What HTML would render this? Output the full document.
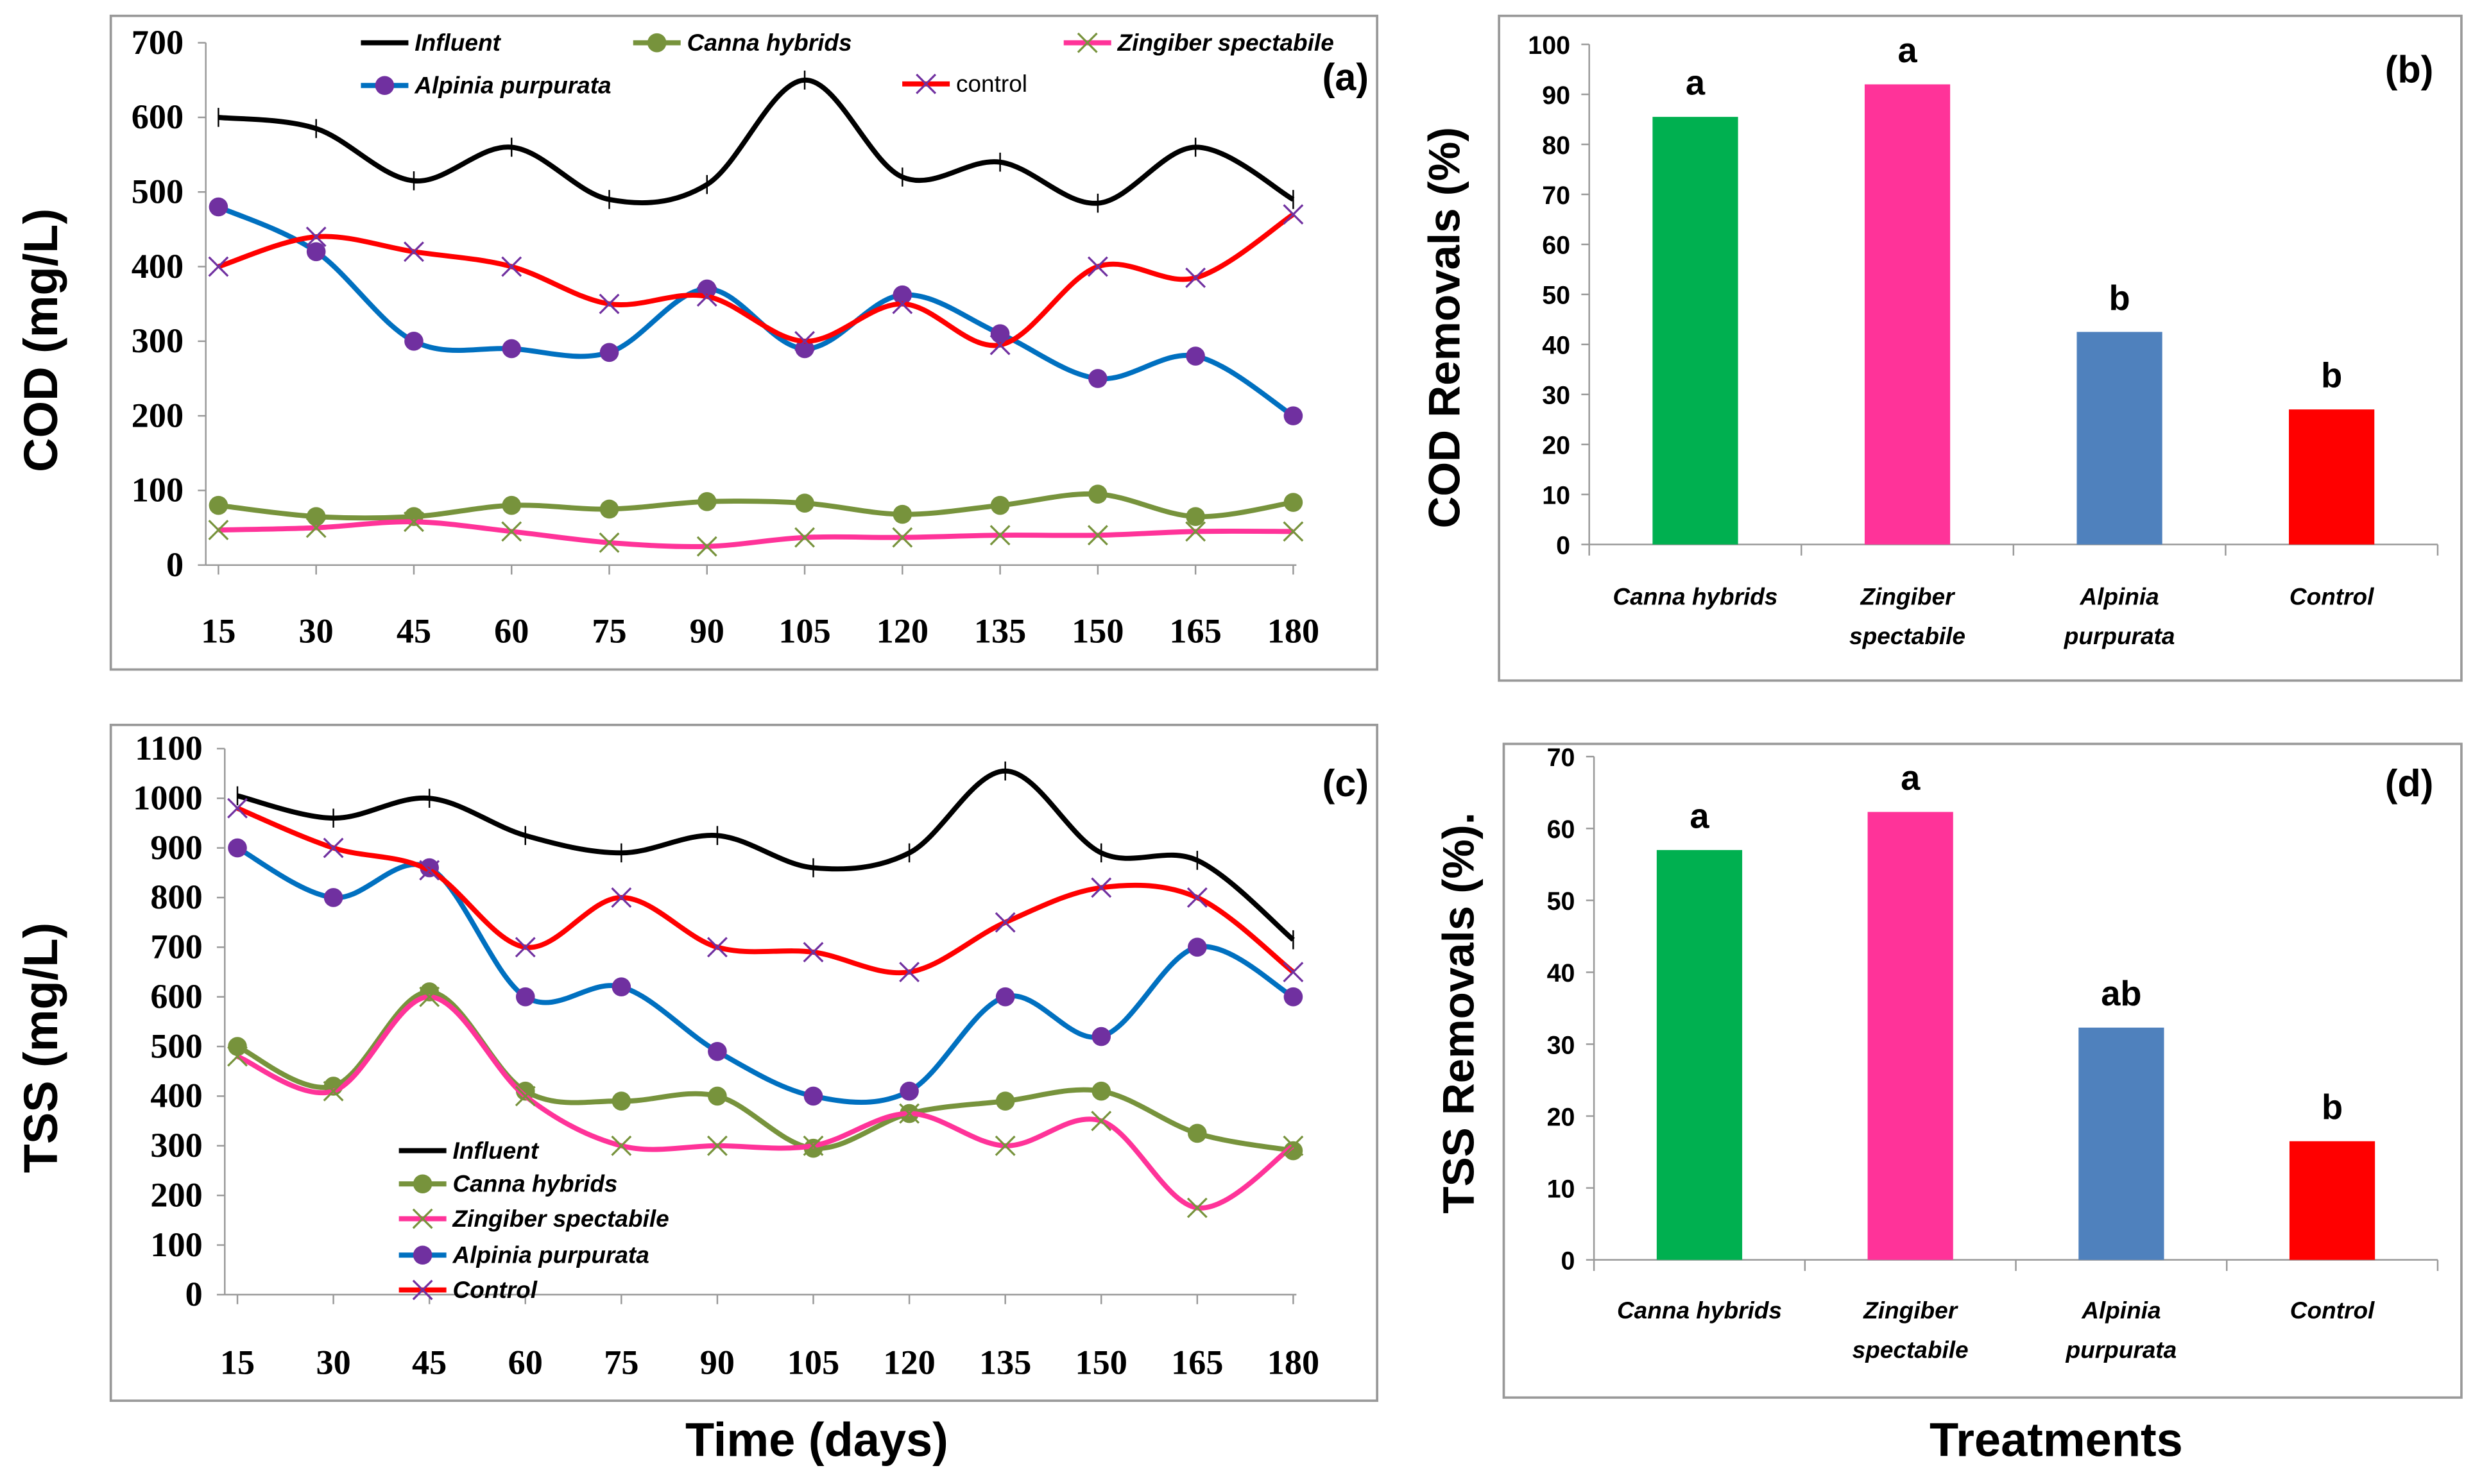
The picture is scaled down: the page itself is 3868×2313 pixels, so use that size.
<!DOCTYPE html>
<html><head><meta charset="utf-8"><style>
html,body{margin:0;padding:0;background:#fff;}
svg{display:block;}
</style></head><body>
<svg id="fig" xmlns="http://www.w3.org/2000/svg" width="3868" height="2313" viewBox="0 0 1568 937.6">
<rect x="0" y="0" width="1568" height="937.6" fill="#fff"/>
</svg>
<script>
// ---- Data ----
const days = [15,30,45,60,75,90,105,120,135,150,165,180];
const codInfluent = [600,585,515,560,490,510,650,520,540,485,560,490];
const codCanna = [80,65,65,80,75,85,83,68,80,95,65,84];
const codZingiber = [47,50,58,45,30,25,37,37,40,40,45,45];
const codAlpinia = [480,420,300,290,285,370,290,362,310,250,280,200];
const codControl = [400,440,420,400,350,360,300,350,295,400,385,470];
const codTicks = [0,100,200,300,400,500,600,700];

const tssInfluent = [1005,960,1000,925,890,925,860,890,1055,890,875,715];
const tssCanna = [500,420,610,410,390,400,295,365,390,410,325,290];
const tssZingiber = [480,410,600,400,300,300,300,365,300,350,175,300];
const tssAlpinia = [900,800,860,600,620,490,400,410,600,520,700,600];
const tssControl = [980,900,855,700,800,700,690,650,750,820,800,650];
const tssTicks = [0,100,200,300,400,500,600,700,800,900,1000,1100];

const treatments = [["Canna hybrids"],["Zingiber","spectabile"],["Alpinia","purpurata"],["Control"]];
const codRemoval = [85.5,92,42.5,27];
const codLetters = ["a","a","b","b"];
const codRemTicks = [0,10,20,30,40,50,60,70,80,90,100];
const tssRemoval = [57,62.3,32.3,16.5];
const tssLetters = ["a","a","ab","b"];
const tssRemTicks = [0,10,20,30,40,50,60,70];

const NS="http://www.w3.org/2000/svg";
const svg=document.getElementById('fig');
function el(tag,attrs,parent,text){const e=document.createElementNS(NS,tag);for(const k in attrs)e.setAttribute(k,attrs[k]);if(text!==undefined)e.textContent=text;(parent||svg).appendChild(e);return e;}

const serif='"Liberation Serif", serif', sans='"Liberation Sans", sans-serif';
const barColors=["#00b050","#ff3399","#4f81bd","#ff0000"];

function smoothPath(pts){
  let d=`M${pts[0][0]},${pts[0][1]}`;
  for(let i=0;i<pts.length-1;i++){
    const p0=pts[i-1]||pts[i],p1=pts[i],p2=pts[i+1],p3=pts[i+2]||p2;
    const t=0.17*3/3;
    const c1=[p1[0]+(p2[0]-p0[0])/6,p1[1]+(p2[1]-p0[1])/6];
    const c2=[p2[0]-(p3[0]-p1[0])/6,p2[1]-(p3[1]-p1[1])/6];
    d+=` C${c1[0]},${c1[1]} ${c2[0]},${c2[1]} ${p2[0]},${p2[1]}`;
  }
  return d;
}
function marker(g,type,x,y,color){
  if(type==='circle'){const m=el('circle',{cx:x,cy:y,r:6,fill:'#7030a0'},g);}
  else if(type==='x'){const s=6;const m=el('path',{d:`M${x-s},${y-s}L${x+s},${y+s}M${x-s},${y+s}L${x+s},${y-s}`,stroke:color,'stroke-width':1.3,fill:'none'},g);}
  else if(type==='greendot'){const m=el('circle',{cx:x,cy:y,r:6,fill:'#77933c'},g);}
  else if(type==='tick'){const m=el('path',{d:`M${x},${y-6}L${x},${y+6}`,stroke:'#000','stroke-width':1},g);}
}

function lineChart(cfg){
  const g=el('g',{});
  
  
  const fr=el('rect',{x:cfg.frame[0],y:cfg.frame[1],width:cfg.frame[2]-cfg.frame[0],height:cfg.frame[3]-cfg.frame[1],fill:'none',stroke:'#999','stroke-width':1.5},g);
  
  const xs=d=>cfg.x0+(d-days[0])/(days[days.length-1]-days[0])*(cfg.x1-cfg.x0);
  const ys=v=>cfg.y0-(v/cfg.ymax)*(cfg.y0-cfg.y1);
  const axL=cfg.x0-8;
  const ya=el('line',{x1:axL,y1:cfg.y0,x2:axL,y2:cfg.y1,stroke:'#999','stroke-width':1},g);
  
  const xa=el('line',{x1:axL,y1:cfg.y0,x2:cfg.x1+2,y2:cfg.y0,stroke:'#999','stroke-width':1},g);
  
  cfg.ticks.forEach(t=>{
    el('line',{x1:axL-5,y1:ys(t),x2:axL,y2:ys(t),stroke:'#999'},g);
    const tl=el('text',{x:axL-14,y:ys(t)+7,'text-anchor':'end','font-family':serif,'font-size':22,'font-weight':'bold'},g,String(t));
    
  });
  days.forEach(d=>{
    el('line',{x1:xs(d),y1:cfg.y0,x2:xs(d),y2:cfg.y0+6,stroke:'#999'},g);
    const tl=el('text',{x:xs(d),y:cfg.xlabY,'text-anchor':'middle','font-family':serif,'font-size':22,'font-weight':'bold'},g,String(d));
    
  });
  cfg.series.forEach(s=>{
    const sg=el('g',{},g);
    
    const pts=s.data.map((v,i)=>[xs(days[i]),ys(v)]);
    const p=el('path',{d:smoothPath(pts),fill:'none',stroke:s.color,'stroke-width':3.2},sg);
    
    pts.forEach(pt=>marker(sg,s.marker,pt[0],pt[1],s.mcolor));
  });
  const yt=el('text',{transform:`translate(${cfg.ytitle[0]},${cfg.ytitle[1]}) rotate(-90)`,'text-anchor':'middle','font-family':sans,'font-size':30,'font-weight':'bold'},g,cfg.ytitleText);
  
  const pl=el('text',{x:cfg.panel[0],y:cfg.panel[1],'text-anchor':'middle','font-family':sans,'font-size':24,'font-weight':'bold'},g,cfg.panelText);
  
  cfg.legend.forEach(L=>{
    const s=cfg.series.find(q=>q.key===L.key);
    const lg=el('g',{},g);
    
    el('line',{x1:L.x,y1:L.y,x2:L.x+30,y2:L.y,stroke:s.color,'stroke-width':3.2},lg);
    if(s.marker!=='tick')marker(lg,s.marker,L.x+15,L.y,s.mcolor);
    el('text',{x:L.x+34,y:L.y+5,'font-family':sans,'font-size':15,'font-weight':L.plain?'normal':'bold','font-style':L.plain?'normal':'italic'},lg,L.text);
  });
  return {g};
}

lineChart({name:'cod-time-chart',frame:[70,10,870,423],x0:138,x1:817,y0:357,y1:27,ymax:700,ticks:codTicks,xlabY:406,
  ytitle:[36,215],ytitleText:'COD (mg/L)',panel:[850,57],panelText:'(a)',
  series:[
    {key:'influent',data:codInfluent,color:'#000',marker:'tick'},
    {key:'canna',data:codCanna,color:'#77933c',marker:'greendot'},
    {key:'zingiber',data:codZingiber,color:'#ff3399',marker:'x',mcolor:'#77933c'},
    {key:'alpinia',data:codAlpinia,color:'#0070c0',marker:'circle'},
    {key:'control',data:codControl,color:'#ff0000',marker:'x',mcolor:'#7030a0'}],
  legend:[{key:'influent',x:228,y:27,text:'Influent'},{key:'canna',x:400,y:27,text:'Canna hybrids'},{key:'zingiber',x:672,y:27,text:'Zingiber spectabile'},
    {key:'alpinia',x:228,y:54,text:'Alpinia purpurata'},{key:'control',x:570,y:53,text:'control',plain:true}]});

lineChart({name:'tss-time-chart',frame:[70,458,870,885],x0:150,x1:817,y0:818,y1:473,ymax:1100,ticks:tssTicks,xlabY:868,
  ytitle:[36,662],ytitleText:'TSS (mg/L)',panel:[850,503],panelText:'(c)',
  series:[
    {key:'influent',data:tssInfluent,color:'#000',marker:'tick'},
    {key:'canna',data:tssCanna,color:'#77933c',marker:'greendot'},
    {key:'zingiber',data:tssZingiber,color:'#ff3399',marker:'x',mcolor:'#77933c'},
    {key:'alpinia',data:tssAlpinia,color:'#0070c0',marker:'circle'},
    {key:'control',data:tssControl,color:'#ff0000',marker:'x',mcolor:'#7030a0'}],
  legend:[{key:'influent',x:252,y:727,text:'Influent'},{key:'canna',x:252,y:748,text:'Canna hybrids'},{key:'zingiber',x:252,y:770,text:'Zingiber spectabile'},
    {key:'alpinia',x:252,y:793,text:'Alpinia purpurata'},{key:'control',x:252,y:815,text:'Control'}]});

const xt=el('text',{x:516,y:920,'text-anchor':'middle','font-family':sans,'font-size':30,'font-weight':'bold'},svg,'Time (days)');


function barChart(cfg){
  const g=el('g',{});
  
  const fr=el('rect',{x:cfg.frame[0],y:cfg.frame[1],width:cfg.frame[2]-cfg.frame[0],height:cfg.frame[3]-cfg.frame[1],fill:'none',stroke:'#999','stroke-width':1.5},g);
  
  const ys=v=>cfg.y0-(v/cfg.ymax)*(cfg.y0-cfg.y1);
  const n=cfg.values.length,band=(cfg.x1-cfg.x0)/n;
  const xc=i=>cfg.x0+band*(i+0.5);
  const ya=el('line',{x1:cfg.x0,y1:cfg.y0,x2:cfg.x0,y2:cfg.y1,stroke:'#999'},g);
  
  const xa=el('line',{x1:cfg.x0,y1:cfg.y0,x2:cfg.x1,y2:cfg.y0,stroke:'#999'},g);
  
  cfg.ticks.forEach(t=>{
    el('line',{x1:cfg.x0-5,y1:ys(t),x2:cfg.x0,y2:ys(t),stroke:'#999'},g);
    const tl=el('text',{x:cfg.x0-12,y:ys(t)+6,'text-anchor':'end','font-family':sans,'font-size':16,'font-weight':'bold'},g,String(t));
    
  });
  for(let i=0;i<=n;i++)el('line',{x1:cfg.x0+band*i,y1:cfg.y0,x2:cfg.x0+band*i,y2:cfg.y0+7,stroke:'#999'},g);
  cfg.values.forEach((v,i)=>{
    const b=el('rect',{x:xc(i)-27,y:ys(v),width:54,height:cfg.y0-ys(v),fill:barColors[i]},g);
    
    const lt=el('text',{x:xc(i),y:ys(v)-14,'text-anchor':'middle','font-family':sans,'font-size':22,'font-weight':'bold'},g,cfg.letters[i]);
    
    treatments[i].forEach((line,k)=>{
      const cl=el('text',{x:xc(i),y:cfg.labY+k*25,'text-anchor':'middle','font-family':sans,'font-size':15,'font-weight':'bold','font-style':'italic'},g,line);
      
    });
  });
  const yt=el('text',{transform:`translate(${cfg.ytitle[0]},${cfg.ytitle[1]}) rotate(-90)`,'text-anchor':'middle','font-family':sans,'font-size':28,'font-weight':'bold'},g,cfg.ytitleText);
  
  const pl=el('text',{x:cfg.panel[0],y:cfg.panel[1],'text-anchor':'middle','font-family':sans,'font-size':24,'font-weight':'bold'},g,cfg.panelText);
  
}

barChart({name:'cod-removal-chart',frame:[947,10,1555,430],x0:1004,x1:1540,y0:344,y1:28,ymax:100,ticks:codRemTicks,values:codRemoval,letters:codLetters,
  labY:382,ytitle:[922,207],ytitleText:'COD Removals (%)',panel:[1522,52],panelText:'(b)'});
barChart({name:'tss-removal-chart',frame:[950,470,1555,883],x0:1007,x1:1540,y0:796,y1:478,ymax:70,ticks:tssRemTicks,values:tssRemoval,letters:tssLetters,
  labY:833,ytitle:[931,640],ytitleText:'TSS Removals (%).',panel:[1522,503],panelText:'(d)'});

const tt=el('text',{x:1299,y:920,'text-anchor':'middle','font-family':sans,'font-size':30,'font-weight':'bold'},svg,'Treatments');

</script>
</body></html>
